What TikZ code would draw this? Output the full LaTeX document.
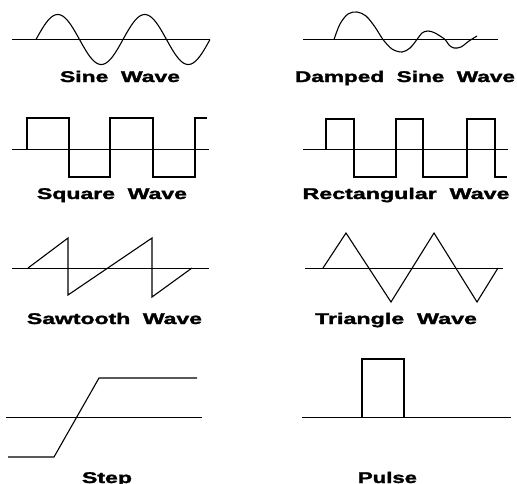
\documentclass[tikz,border=0pt]{standalone}
\usepackage{fontspec}
\setmainfont{Liberation Sans}[BoldFeatures={FakeBold=1.6}]
\usepackage{graphicx}
\newcommand\wavelabel[2]{\resizebox{#1pt}{\height}{#2}}
\begin{document}
\begin{tikzpicture}[x=1pt,y=-1pt,
  wave/.style={line width=1.1pt, line join=miter},
  axis/.style={line width=1pt},
  lbl/.style={inner sep=0pt, anchor=base, font=\fontsize{15.5}{15.5}\selectfont\bfseries}]
\useasboundingbox (0,0) rectangle (517,483);

% Sine wave
\draw[axis] (12,39.5) -- (210,39.5);
\draw[wave] plot[domain=36:210, samples=120] (\x, {39.5 - 25*sin((\x-36)/87*360)});
\node[lbl] (sine) at (120,82) {\wavelabel{120}{Sine\hspace{0.55em}Wave}};

% Damped sine wave
\draw[axis] (303,39.5) -- (498,39.5);
\draw[wave] plot[smooth, tension=0.55] coordinates {(334,39.5) (340,24) (348,14) (357,12) (366,16) (375,27) (383,39.5) (392,49) (402,52) (410,48) (417,39.5) (422,33) (428,31) (435,33) (445,39.5) (449,45) (454,48) (461,47) (469,41) (477,36)};
\node[lbl] (damped) at (405,82) {\wavelabel{220}{Damped\hspace{0.55em}Sine\hspace{0.55em}Wave}};

% Square wave
\draw[axis] (12,149) -- (209,149);
\draw[wave] (27,149) -- (27,118) -- (69,118) -- (69,177) -- (110,177) -- (110,118) -- (153,118) -- (153,177) -- (195,177) -- (195,118) -- (207,118);
\node[lbl] (square) at (112,199) {\wavelabel{150}{Square\hspace{0.55em}Wave}};

% Rectangular wave
\draw[axis] (303,149) -- (508,149);
\draw[wave] (326,149) -- (326,119) -- (354,119) -- (354,177) -- (396,177) -- (396,119) -- (423,119) -- (423,177) -- (467,177) -- (467,119) -- (495,119) -- (495,177) -- (507,177);
\node[lbl] (rect) at (406,199) {\wavelabel{207}{Rectangular\hspace{0.55em}Wave}};

% Sawtooth wave
\draw[axis] (12,268) -- (209,268);
\draw[wave] (28,268) -- (68,238) -- (68,295) -- (152,238) -- (152,297) -- (192,268);
\node[lbl] (saw) at (114.5,324) {\wavelabel{175}{Sawtooth\hspace{0.55em}Wave}};

% Triangle wave
\draw[axis] (305,268) -- (503,268);
\draw[wave] (323,268) -- (346,233) -- (391,302) -- (434,233) -- (477,302) -- (498,268);
\node[lbl] (tri) at (396,324) {\wavelabel{162}{Triangle\hspace{0.55em}Wave}};

% Step
\draw[axis] (6,417) -- (202,417);
\draw[wave] (8,457) -- (54,457) -- (99,378) -- (197,378);
\node[lbl] (step) at (107,483) {\wavelabel{50}{Step}};

% Pulse
\draw[axis] (302,417) -- (511,417);
\draw[wave] (362,417) -- (362,359) -- (404,359) -- (404,417);
\node[lbl] (pulse) at (387.5,483) {\wavelabel{59}{Pulse}};
\end{tikzpicture}
\end{document}
